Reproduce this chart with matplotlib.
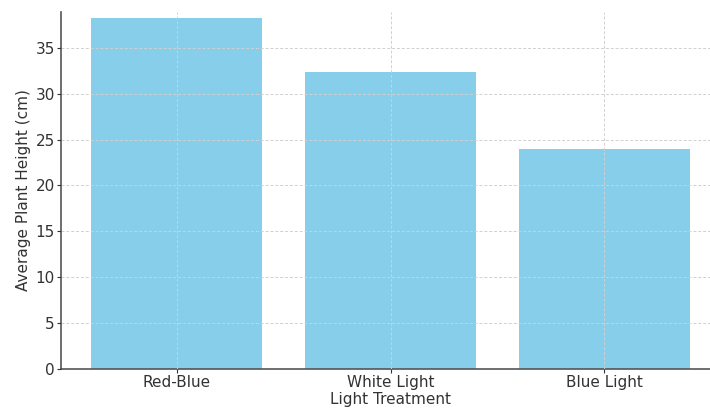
import numpy as np
import matplotlib.pyplot as plt

treatments = ['Red-Blue', 'White Light', 'Blue Light']
heights = [38.2, 32.4, 24.0]

fig = plt.figure(figsize=(7.1, 4.09), dpi=100)
ax = fig.add_axes([61/710, 40/409, 659/710, 357/409])

ax.bar(treatments, heights, color='skyblue', width=0.8)
ax.set_xlim(-0.54, 2.54)
ax.set_ylim(0, 38.9)
ax.grid(True, linestyle='--', color='#d0d0d0', linewidth=0.7, dashes=(3, 2))
ax.set_axisbelow(False)
ax.set_xlabel('Light Treatment', fontsize=11, color='#333333', labelpad=1)
ax.set_ylabel('Average Plant Height (cm)', fontsize=11, color='#333333', labelpad=3)
ax.tick_params(labelsize=11, colors='#333333', length=3, pad=1.5)
for s in ['top', 'right']:
    ax.spines[s].set_visible(False)
for s in ['left', 'bottom']:
    ax.spines[s].set_color('#555555')
    ax.spines[s].set_linewidth(1.2)

fig.savefig('out.png', dpi=100)
